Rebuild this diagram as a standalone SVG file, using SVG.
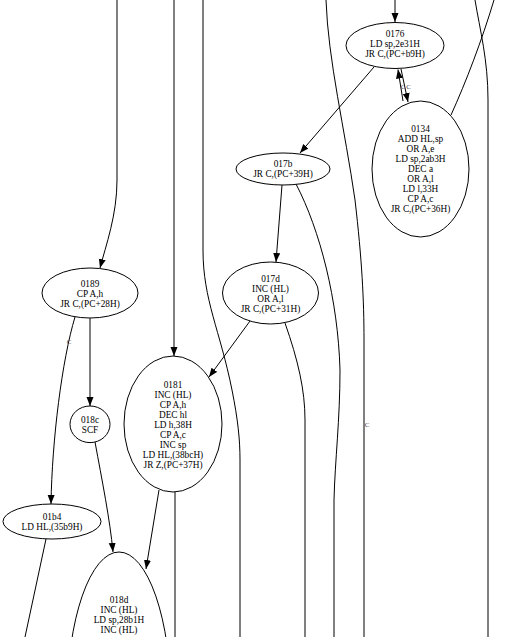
<svg xmlns="http://www.w3.org/2000/svg" width="528" height="637" viewBox="0 0 528 637">
<style>
.n ellipse{fill:#fff;stroke:#000;stroke-width:1}
.n text{font-family:"Liberation Serif","Times New Roman",serif;font-size:9.3px;text-anchor:middle;fill:#000}
.e path{fill:none;stroke:#000;stroke-width:1}
.e .a{marker-end:url(#ah)}
.lbl{font-family:"Liberation Serif","Times New Roman",serif;font-size:7px;fill:#444;text-anchor:middle}
</style>
<defs>
<marker id="ah" markerWidth="10" markerHeight="8" refX="9" refY="3.5" orient="auto" markerUnits="userSpaceOnUse"><path d="M0,0 L9,3.5 L0,7 z" fill="#000"/></marker>
</defs>
<rect width="528" height="637" fill="#fff"/>
<g class="e" id="edges">
<path class="a" d="M395,0 L395,22"/>
<path class="a" d="M374,67 L300,153"/>
<path class="a" d="M403,101 L398,69.5"/>
<path class="a" d="M401,69 L408,102"/>
<path d="M451,115 C466,82 482,40 494,0"/>
<path d="M475,0 C480,30 488,60 488,100 L488,637"/>
<path d="M326,0 C328,60 345,130 355,200 C362,260 364,300 364,340 L364,637"/>
<path class="a" d="M282,185 L276,262"/>
<path d="M296,184 C320,230 338,300 340,370 C340,420 335,460 334,500 L334,637"/>
<path class="a" d="M250,321 L209,377"/>
<path d="M285,323 C298,360 305,390 305,420 L305,637"/>
<path class="a" d="M174,0 L174,356"/>
<path d="M203,0 L203,250 C203,300 220,330 232,390 C238,420 240,440 240,460 L240,637"/>
<path class="a" d="M117,0 L117,180 C117,215 106,245 100,268"/>
<path class="a" d="M90,318 L90,406"/>
<path class="a" d="M75,317 C62,360 52,440 51,504"/>
<path class="a" d="M95,442 C102,480 110,520 113,552"/>
<path class="a" d="M159,490 L146,569"/>
<path d="M175,492 L175,637"/>
<path d="M46,539 L25,637"/>
<text class="lbl" x="403" y="89">C</text>
<text class="lbl" x="408.5" y="89">C</text>
<text class="lbl" x="69" y="344">C</text>
<text class="lbl" x="367" y="427">C</text>
</g>
<g class="n" id="n0176"><ellipse cx="395" cy="45.5" rx="49" ry="23"/><text x="395" y="37.2">0176</text><text x="395" y="47.2">LD sp,2e31H</text><text x="395" y="57.2">JR C,(PC+b9H)</text></g>
<g class="n" id="n0134"><ellipse cx="420.5" cy="169" rx="48.5" ry="68"/><text x="420.5" y="131.5">0134</text><text x="420.5" y="141.5">ADD HL,sp</text><text x="420.5" y="151.5">OR A,e</text><text x="420.5" y="161.5">LD sp,2ab3H</text><text x="420.5" y="171.5">DEC a</text><text x="420.5" y="181.5">OR A,l</text><text x="420.5" y="191.5">LD l,33H</text><text x="420.5" y="201.5">CP A,c</text><text x="420.5" y="211.5">JR C,(PC+36H)</text></g>
<g class="n" id="n017b"><ellipse cx="283" cy="169" rx="47" ry="16"/><text x="283" y="167.2">017b</text><text x="283" y="177.2">JR C,(PC+39H)</text></g>
<g class="n" id="n017d"><ellipse cx="270.5" cy="293" rx="48" ry="31"/><text x="270.5" y="281.5">017d</text><text x="270.5" y="291.5">INC (HL)</text><text x="270.5" y="301.5">OR A,l</text><text x="270.5" y="311.5">JR C,(PC+31H)</text></g>
<g class="n" id="n0189"><ellipse cx="90" cy="293" rx="48" ry="25"/><text x="90" y="286.5">0189</text><text x="90" y="296.5">CP A,h</text><text x="90" y="306.5">JR C,(PC+28H)</text></g>
<g class="n" id="n0181"><ellipse cx="173" cy="424" rx="49" ry="68"/><text x="173" y="387.7">0181</text><text x="173" y="397.7">INC (HL)</text><text x="173" y="407.7">CP A,h</text><text x="173" y="417.7">DEC hl</text><text x="173" y="427.7">LD h,38H</text><text x="173" y="437.7">CP A,c</text><text x="173" y="447.7">INC sp</text><text x="173" y="457.7">LD HL,(38bcH)</text><text x="173" y="467.7">JR Z,(PC+37H)</text></g>
<g class="n" id="n018c"><ellipse cx="90" cy="424.3" rx="20" ry="18.3"/><text x="90" y="423.2">018c</text><text x="90" y="433.2">SCF</text></g>
<g class="n" id="n01b4"><ellipse cx="52" cy="521.5" rx="49" ry="17.5"/><text x="52" y="519.9">01b4</text><text x="52" y="529.9">LD HL,(35b9H)</text></g>
<g class="n" id="n018d"><ellipse cx="119" cy="702" rx="52" ry="150"/><text x="119" y="602.5">018d</text><text x="119" y="612.5">INC (HL)</text><text x="119" y="622.5">LD sp,28b1H</text><text x="119" y="632.5">INC (HL)</text></g>
</svg>
